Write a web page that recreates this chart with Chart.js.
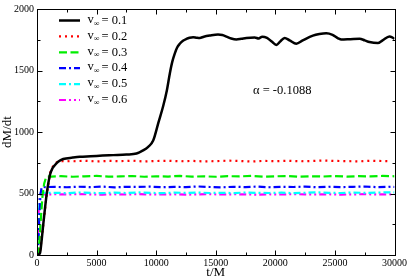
<!DOCTYPE html>
<html><head><meta charset="utf-8">
<script src="https://cdn.jsdelivr.net/npm/chart.js@4/dist/chart.umd.min.js"></script>
<style>html,body{margin:0;padding:0;background:#fff;overflow:hidden}#wrap{width:409px;height:279px;position:relative}</style>
</head><body><div id="wrap"><canvas id="c" width="409" height="279"></canvas></div>
<script>
// ---- data ----
const speedLabels = ['0.1', '0.2', '0.3', '0.4', '0.5', '0.6'];
const annotationText = 'α = -0.1088';
const xTickValues = [0, 5000, 10000, 15000, 20000, 25000, 30000];
const yTickValues = [0, 500, 1000, 1500, 2000];

const t1 = [0, 250, 400, 530, 810, 1090, 1300, 1510, 1800, 2200, 3000, 3600, 4500, 5500, 6400, 7500, 8350, 8900, 9330, 9750, 10200, 10590, 10900, 11150, 11350, 11560, 11750, 11980, 12250, 12540, 12800, 13100, 13400, 13660, 14000, 14500, 15190, 15550, 15890, 16300, 16730, 17150, 17570, 18270, 18600, 18900, 19300, 19700, 20090, 20400, 20780, 21200, 21760, 22300, 23150, 23700, 24280, 24800, 25300, 25530, 26300, 27070, 27500, 27900, 28600, 29000, 29580, 29800, 30000];
const m1 = [0, 15, 130, 253, 493, 652, 705, 732, 760, 780, 792, 799, 803, 808, 812, 817, 825, 850, 879, 930, 1080, 1211, 1340, 1478, 1570, 1637, 1685, 1717, 1742, 1757, 1766, 1771, 1767, 1765, 1775, 1784, 1792, 1788, 1776, 1760, 1752, 1758, 1765, 1768, 1760, 1775, 1765, 1735, 1708, 1735, 1765, 1745, 1718, 1745, 1784, 1797, 1803, 1790, 1760, 1752, 1755, 1758, 1745, 1731, 1723, 1745, 1776, 1770, 1757];

const t2 = [0, 250, 500, 800, 1100, 1400, 1700, 2000, 3000, 4000, 5000, 6000, 7000, 8000, 9000, 10000, 11000, 12000, 13000, 14000, 15000, 16000, 17000, 18000, 19000, 20000, 21000, 22000, 23000, 24000, 25000, 26000, 27000, 28000, 29000, 29600];
const m2 = [0, 20, 220, 480, 668, 735, 756, 763, 762, 766, 761, 765, 763, 767, 760, 764, 766, 762, 765, 761, 763, 767, 764, 760, 765, 763, 766, 762, 764, 768, 765, 763, 761, 766, 764, 762];

const t3 = [0, 150, 300, 450, 600, 750, 900, 1200, 2000, 3000, 4000, 5000, 6000, 7000, 8000, 9000, 10000, 11000, 12000, 13000, 14000, 15000, 16000, 17000, 18000, 19000, 20000, 21000, 22000, 23000, 24000, 25000, 26000, 27000, 28000, 29000, 30000];
const m3 = [0, 40, 260, 470, 580, 628, 640, 637, 641, 636, 640, 643, 637, 639, 642, 636, 640, 638, 643, 637, 640, 636, 641, 639, 643, 637, 640, 642, 636, 640, 638, 642, 637, 641, 639, 643, 640];

const t4 = [0, 100, 200, 300, 390, 500, 700, 1500, 2500, 3500, 4500, 5500, 6500, 7500, 8500, 9500, 10500, 11500, 12500, 13500, 14500, 15500, 16500, 17500, 18500, 19500, 20500, 21500, 22500, 23500, 24500, 25500, 26500, 27500, 28500, 29500, 30000];
const m4 = [0, 60, 320, 500, 548, 555, 552, 554, 551, 555, 552, 556, 550, 554, 553, 556, 551, 554, 552, 557, 553, 550, 555, 552, 556, 551, 554, 553, 556, 551, 555, 552, 554, 557, 552, 555, 553];

const t5 = [0, 80, 160, 240, 320, 450, 800, 1500, 2500, 3500, 4500, 5500, 6500, 7500, 8500, 9500, 10500, 11500, 12500, 13500, 14500, 15500, 16500, 17500, 18500, 19500, 20500, 21500, 22500, 23500, 24500, 25500, 26500, 27500, 28500, 29500, 30000];
const m5 = [0, 70, 330, 470, 503, 507, 504, 506, 503, 508, 505, 503, 507, 504, 509, 505, 503, 507, 505, 508, 504, 506, 503, 508, 505, 504, 507, 503, 506, 509, 505, 504, 508, 505, 507, 510, 508];

const t6 = [0, 60, 120, 180, 250, 350, 800, 1500, 2500, 3500, 4500, 5500, 6500, 7500, 8500, 9500, 10500, 11500, 12500, 13500, 14500, 15500, 16500, 17500, 18500, 19500, 20500, 21500, 22500, 23500, 24500, 25500, 26500, 27500, 28500, 29500, 30000];
const m6 = [0, 90, 300, 450, 492, 495, 493, 494, 492, 495, 493, 491, 494, 492, 495, 493, 492, 494, 491, 493, 495, 492, 494, 493, 491, 494, 492, 495, 493, 492, 494, 491, 493, 495, 492, 494, 493];

const seriesT = [t1, t2, t3, t4, t5, t6];
const seriesM = [m1, m2, m3, m4, m5, m6];

// ---- styles ----
const styles = [
  {color: '#000000', width: 2.5, dash: []},
  {color: '#ff0000', width: 2.2, dash: [2, 4]},
  {color: '#00ee00', width: 2.2, dash: [8, 3.5]},
  {color: '#0000ff', width: 2.2, dash: [7, 3, 2, 3]},
  {color: '#00ffff', width: 2.2, dash: [7, 3, 2, 3]},
  {color: '#ff00ff', width: 2.2, dash: [7, 3, 2, 3, 2, 3]}
];

Chart.defaults.font.family = "'Liberation Serif', 'DejaVu Serif', serif";
Chart.defaults.color = '#000';

const datasets = seriesT.map((ts, i) => ({
  label: 'v∞ = ' + speedLabels[i],
  data: ts.map((t, j) => ({x: t, y: seriesM[i][j]})),
  borderColor: styles[i].color,
  borderWidth: styles[i].width,
  borderDash: styles[i].dash,
  borderCapStyle: 'butt',
  pointRadius: 0,
  fill: false,
  cubicInterpolationMode: i === 0 ? 'monotone' : 'default',
  tension: i === 0 ? 0.4 : 0
}));

const framePlugin = {
  id: 'frame',
  afterDraw(chart) {
    const ctx = chart.ctx;
    const a = chart.chartArea;
    const xs = chart.scales.x, ys = chart.scales.y;
    ctx.save();
    ctx.strokeStyle = '#000';
    ctx.lineWidth = 1;
    ctx.setLineDash([]);
    const L = Math.round(a.left) + 0.5, R = Math.round(a.right) + 0.5;
    const T = Math.round(a.top) + 0.5, B = Math.round(a.bottom) + 0.5;
    ctx.strokeRect(L, T, R - L, B - T);
    ctx.beginPath();
    for (let v = 0; v <= 30000; v += 2500) {
      const px = Math.round(xs.getPixelForValue(v)) + 0.5;
      const len = (v % 5000 === 0) ? 5 : 3;
      ctx.moveTo(px, B); ctx.lineTo(px, B - len);
      ctx.moveTo(px, T); ctx.lineTo(px, T + len);
    }
    for (let v = 0; v <= 2000; v += 250) {
      const py = Math.round(ys.getPixelForValue(v)) + 0.5;
      const len = (v % 500 === 0) ? 5 : 3;
      ctx.moveTo(L, py); ctx.lineTo(L + len, py);
      ctx.moveTo(R, py); ctx.lineTo(R - len, py);
    }
    ctx.stroke();

    // legend
    const x0 = 59, x1 = 80, y0 = 20.5, dy = 15.9;
    chart.data.datasets.forEach((ds, i) => {
      const y = y0 + i * dy;
      ctx.save();
      ctx.strokeStyle = ds.borderColor;
      ctx.lineWidth = ds.borderWidth;
      ctx.setLineDash(ds.borderDash);
      ctx.lineCap = 'butt';
      ctx.beginPath(); ctx.moveTo(x0, y); ctx.lineTo(x1, y); ctx.stroke();
      ctx.restore();
      ctx.fillStyle = '#000';
      ctx.textBaseline = 'middle';
      ctx.textAlign = 'left';
      ctx.font = "12.5px 'Liberation Serif'";
      ctx.fillText('v', 87.5, y - 1);
      const vw = ctx.measureText('v').width;
      ctx.font = "8px 'Liberation Serif'";
      ctx.fillText('∞', 87.5 + vw, y + 3);
      ctx.font = "12.5px 'Liberation Serif'";
      ctx.fillText('= ' + speedLabels[i], 101.5, y);
    });

    // annotation
    ctx.font = "12.5px 'Liberation Serif'";
    ctx.textAlign = 'left';
    ctx.textBaseline = 'middle';
    ctx.fillText(annotationText, 253, 91);
    ctx.restore();
  }
};

new Chart(document.getElementById('c'), {
  type: 'line',
  data: {datasets},
  options: {
    responsive: false,
    animation: false,
    devicePixelRatio: 1,
    layout: {padding: {top: 4, right: 14, left: 0, bottom: 0}},
    plugins: {legend: {display: false}, tooltip: {enabled: false}},
    scales: {
      x: {
        type: 'linear', min: 0, max: 30000,
        afterBuildTicks: s => { s.ticks = xTickValues.map(v => ({value: v})); },
        ticks: {font: {size: 10}, color: '#000', padding: 2, maxRotation: 0, autoSkip: false, callback: v => String(v)},
        grid: {display: false, drawTicks: false},
        border: {display: false},
        title: {display: true, text: 't/M', font: {size: 13, lineHeight: 1}, padding: 0, color: '#000'},
        afterFit: s => { s.height = 24; }
      },
      y: {
        type: 'linear', min: 0, max: 2000,
        afterBuildTicks: s => { s.ticks = yTickValues.map(v => ({value: v})); },
        ticks: {font: {size: 10}, color: '#000', padding: 3, callback: v => String(v)},
        grid: {display: false, drawTicks: false},
        border: {display: false},
        title: {display: true, text: 'dM/dt', font: {size: 13, lineHeight: 1}, padding: {top: 1, bottom: 1}, color: '#000'},
        afterFit: s => { s.width = 37; }
      }
    }
  },
  plugins: [framePlugin]
});
</script></body></html>
